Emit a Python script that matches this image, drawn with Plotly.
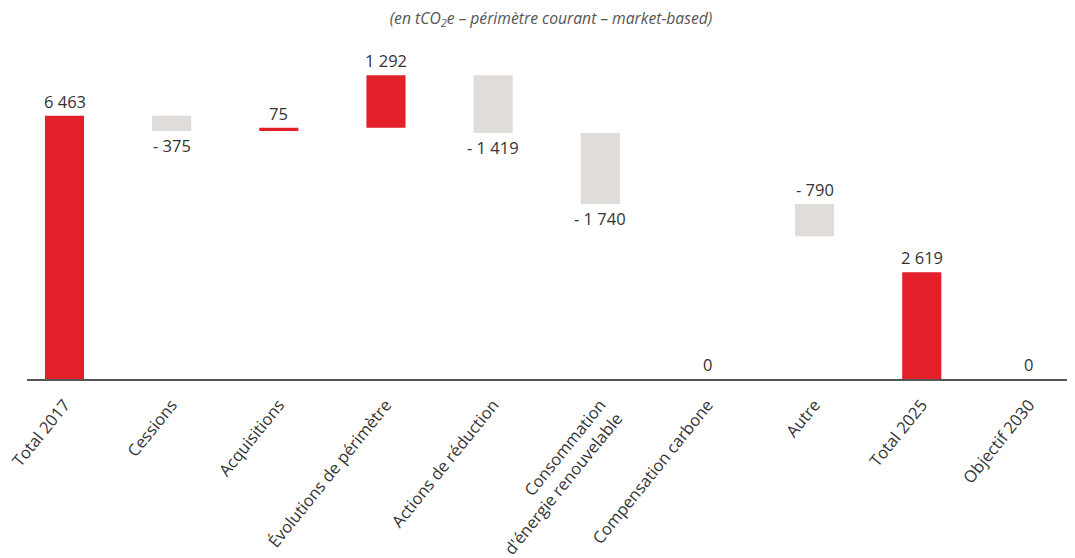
import plotly.graph_objects as go

categories = ["Total 2017", "Cessions", "Acquisitions", "Évolutions de périmètre",
              "Actions de réduction", "Consommation<br>d'énergie renouvelable",
              "Compensation carbone", "Autre", "Total 2025", "Objectif 2030"]
values = [6463, -375, 75, 1292, -1419, -1740, 0, -790, 2619, 0]
measures = ["absolute", "relative", "relative", "relative", "relative", "relative",
            "relative", "relative", "absolute", "absolute"]
labels = ["6 463", "- 375", "75", "1 292", "- 1 419", "- 1 740", "0", "- 790", "2 619", "0"]
label_above = [True, False, True, True, False, False, True, True, True, True]

RED = "#E31F29"
GREY = "#E0DCD9"
TXT = "#333333"
FONT = "Open Sans"

fig = go.Figure(go.Waterfall(
    x=list(range(len(categories))),
    y=values,
    measure=measures,
    increasing=dict(marker=dict(color=RED)),
    decreasing=dict(marker=dict(color=GREY)),
    totals=dict(marker=dict(color=RED)),
    connector=dict(visible=False),
    width=0.365,
    hoverinfo="skip",
))

# value labels at bar ends (zero values are labelled at the baseline)
cum = 0
for i, (v, m) in enumerate(zip(values, measures)):
    if m == "absolute":
        start, end = 0, v
        cum = v
    else:
        start, end = cum, cum + v
        cum = end
    top, bot = max(start, end), min(start, end)
    if v == 0:
        top = 0
    if label_above[i]:
        fig.add_annotation(x=i, y=top, text=labels[i], showarrow=False,
                           yanchor="bottom", yshift=1,
                           font=dict(family=FONT, size=16.5, color=TXT))
    else:
        fig.add_annotation(x=i, y=bot, text=labels[i], showarrow=False,
                           yanchor="top", yshift=-1,
                           font=dict(family=FONT, size=16.5, color=TXT))

fig.update_layout(
    width=1075, height=558,
    margin=dict(l=19, r=8, t=45, b=187, autoexpand=False),
    paper_bgcolor="white", plot_bgcolor="white",
    showlegend=False,
    title=dict(text="<i>(en tCO<sub>2</sub>e – périmètre courant – market-based)</i>",
               x=0.5, xref="paper", xanchor="center", y=1 - 10/558, yanchor="middle",
               font=dict(family=FONT, size=15.7, color="#555555")),
    xaxis=dict(range=[-0.35, 9.43], tickmode="array", automargin=False,
               tickvals=list(range(len(categories))), ticktext=categories,
               tickangle=-51, tickfont=dict(family=FONT, size=16.5, color=TXT),
               ticklabelstandoff=8, ticklabeloverflow="allow",
               showline=True, linecolor="#555555", linewidth=1.5,
               showgrid=False, zeroline=False, ticks=""),
    yaxis=dict(range=[0, 8000], visible=False, showgrid=False, zeroline=False,
               automargin=False),
)

fig.write_html("out.html")
